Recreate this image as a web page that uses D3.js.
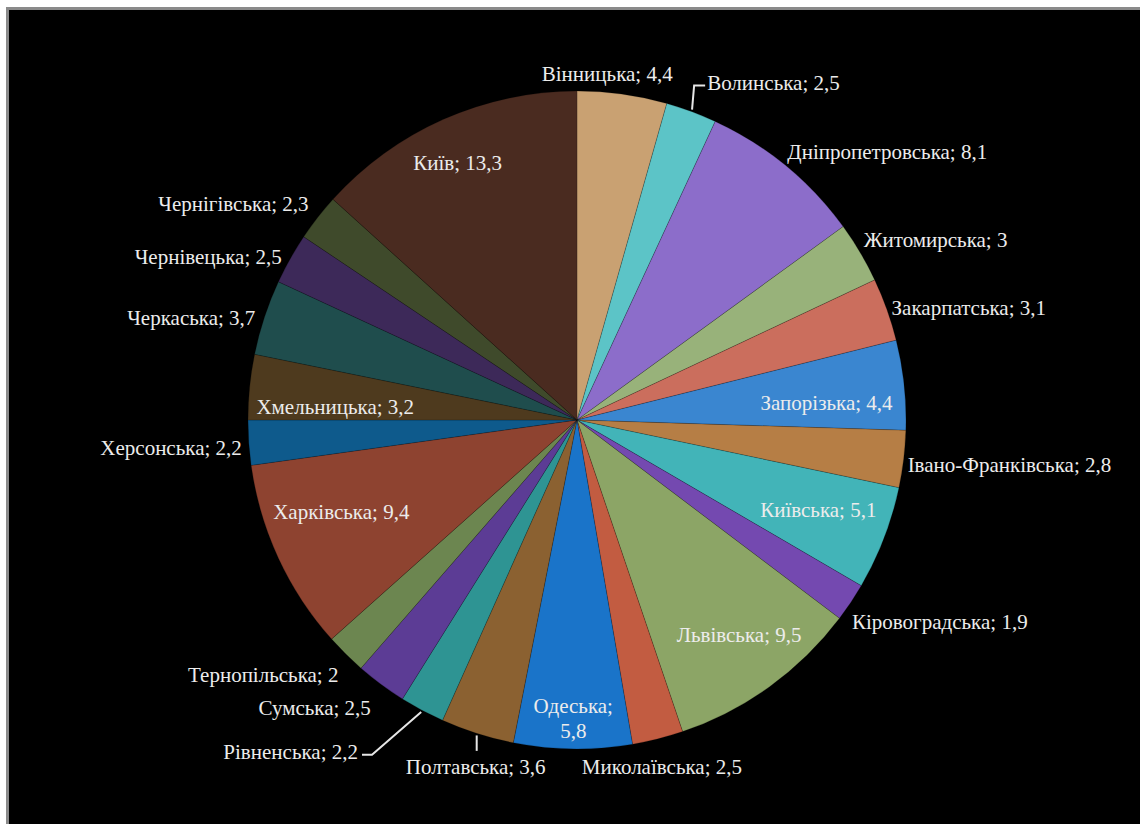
<!DOCTYPE html>
<html>
<head>
<meta charset="utf-8">
<script src="https://cdn.jsdelivr.net/npm/d3@7"></script>
<style>
  html, body { margin: 0; padding: 0; background: #ffffff; }
  svg { display: block; }
  .lbl { font-family: "Liberation Serif", "Times New Roman", "DejaVu Serif", serif; }
</style>
</head>
<body>
<svg id="chart" width="1140" height="824"></svg>
<script>
// ---- data ----
const regions = [
  "Вінницька", "Волинська", "Дніпропетровська", "Житомирська", "Закарпатська",
  "Запорізька", "Івано-Франківська", "Київська", "Кіровоградська", "Львівська",
  "Миколаївська", "Одеська", "Полтавська", "Рівненська", "Сумська",
  "Тернопільська", "Харківська", "Херсонська", "Хмельницька", "Черкаська",
  "Чернівецька", "Чернігівська", "Київ"
];
const values = [
  4.4, 2.5, 8.1, 3, 3.1,
  4.4, 2.8, 5.1, 1.9, 9.5,
  2.5, 5.8, 3.6, 2.2, 2.5,
  2, 9.4, 2.2, 3.2, 3.7,
  2.5, 2.3, 13.3
];

// ---- styles ----
const colors = [
  "#C9A172", "#5CC4C7", "#8C6DCA", "#98B27A", "#CB6E5D",
  "#3A86D0", "#B67E45", "#42B4B8", "#7449B0", "#8CA566",
  "#C25C41", "#1A74C9", "#8B6131", "#2E9493", "#5C3C95",
  "#6C8650", "#8E4330", "#0E5A8C", "#4E3A1E", "#1F4D4D",
  "#3D2959", "#3F4A2B", "#4A2B20"
];

// label placement: radial distance from centre along slice mid-angle, nudges, anchor
const labelLayout = [
  {r: 350, dx: -18, dy: 0, anchor: "middle"},
  {r: 360, dx: 5, dy: 0, anchor: "start", leader: "elbowRight"},
  {r: 347, dx: -10, dy: 0, anchor: "start"},
  {r: 354, dx: -18, dy: 0, anchor: "start"},
  {r: 334, dx: 0, dy: 0, anchor: "start"},
  {r: 251, dx: 0, dy: 9, anchor: "middle"},
  {r: 333, dx: 0, dy: 5, anchor: "start"},
  {r: 250, dx: 8, dy: 0, anchor: "middle"},
  {r: 364, dx: -28, dy: 0, anchor: "start"},
  {r: 265, dx: 7, dy: 0, anchor: "middle"},
  {r: 358, dx: -3, dy: 0, anchor: "middle"},
  {r: 298, dx: 0, dy: 0, anchor: "middle", wrap: true},
  {r: 364, dx: 9, dy: 0, anchor: "middle", leader: "vertical"},
  {r: 376, dx: -42, dy: 0, anchor: "end", leader: "elbowLeft"},
  {r: 358, dx: 7, dy: 0, anchor: "end"},
  {r: 358, dx: 13, dy: 0, anchor: "end"},
  {r: 219, dx: -37, dy: 0, anchor: "middle"},
  {r: 336, dx: 0, dy: 4, anchor: "end"},
  {r: 243, dx: 0, dy: 11, anchor: "middle"},
  {r: 327, dx: -11, dy: 0, anchor: "end"},
  {r: 333, dx: -5, dy: 0, anchor: "end"},
  {r: 352, dx: 9, dy: 0, anchor: "end"},
  {r: 282, dx: -5, dy: 0, anchor: "middle"}
];

const data = regions.map((name, i) => ({name, value: values[i], color: colors[i], layout: labelLayout[i]}));

const svg = d3.select("#chart");
const W = 1140, H = 824;

// frame
svg.append("rect").attr("x", 0).attr("y", 0).attr("width", W).attr("height", H).attr("fill", "#ffffff");
svg.append("rect")
  .attr("x", 7.5).attr("y", 8.5)
  .attr("width", W + 10).attr("height", H + 10)
  .attr("fill", "#000000")
  .attr("stroke", "#8a8a8a").attr("stroke-width", 3);

const cx = 577, cy = 420, radius = 329;
const g = svg.append("g").attr("transform", `translate(${cx},${cy})`);

const pie = d3.pie().sort(null).value(d => d.value).startAngle(0).endAngle(2 * Math.PI);
const arc = d3.arc().innerRadius(0).outerRadius(radius);
const arcs = pie(data);

g.selectAll("path.slice")
  .data(arcs)
  .enter().append("path")
  .attr("class", "slice")
  .attr("d", arc)
  .attr("fill", d => d.data.color)
  .attr("stroke", "rgba(0,0,0,0.25)")
  .attr("stroke-width", 0.7);

const fmt = v => String(v).replace(".", ",");
const polar = (r, a) => [r * Math.sin(a), -r * Math.cos(a)];

const labels = g.append("g")
  .attr("class", "lbl")
  .attr("font-size", 21)
  .attr("fill", "#ECECEC");

const leaders = g.append("g")
  .attr("fill", "none")
  .attr("stroke", "#E6E6E6")
  .attr("stroke-width", 2);

arcs.forEach(d => {
  const L = d.data.layout;
  const mid = (d.startAngle + d.endAngle) / 2;
  const [px, py] = polar(L.r, mid);
  const x = px + L.dx, y = py + L.dy;
  const t = labels.append("text")
    .attr("x", x).attr("y", y)
    .attr("text-anchor", L.anchor);
  if (L.wrap) {
    t.append("tspan").attr("x", x).attr("dy", "-0.22em").text(d.data.name + ";");
    t.append("tspan").attr("x", x).attr("dy", "1.15em").text(fmt(d.data.value));
  } else {
    t.attr("dy", "0.35em").text(`${d.data.name}; ${fmt(d.data.value)}`);
  }
  if (L.leader) {
    const [ax, ay] = polar(radius + 2, mid);
    let pts;
    if (L.leader === "elbowRight") {
      pts = [[ax, ay], [x - 13, y + 3], [x - 2, y + 3]];
    } else if (L.leader === "elbowLeft") {
      pts = [[ax, ay], [x + 14, y + 3], [x + 4, y + 3]];
    } else {
      pts = [[ax, ay], [ax, y - 16]];
    }
    leaders.append("path").attr("d", d3.line()(pts));
  }
});
</script>
</body>
</html>
